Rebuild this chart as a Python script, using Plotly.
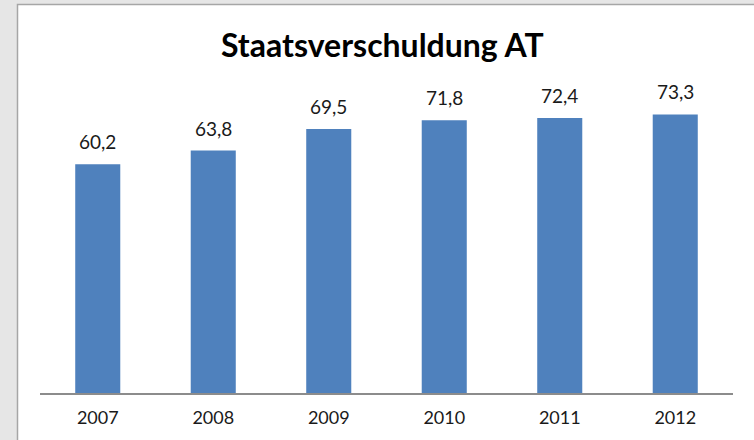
import plotly.graph_objects as go

years = ["2007", "2008", "2009", "2010", "2011", "2012"]
values = [60.2, 63.8, 69.5, 71.8, 72.4, 73.3]
labels = ["60,2", "63,8", "69,5", "71,8", "72,4", "73,3"]
title_text = "Staatsverschuldung AT"

W, H = 754, 440
L, R, T, B = 40, 21, 89, 47
pw, ph = W - L - R, H - T - B

def px_x(x):
    return (x - L) / pw

def px_y(y):
    return (H - B - y) / ph

fig = go.Figure()
fig.add_trace(go.Bar(
    x=years, y=values,
    marker=dict(color="#4F81BD", line=dict(width=0)),
    hoverinfo="skip",
))

annotations = []
for i, (v, lab) in enumerate(zip(values, labels)):
    annotations.append(dict(
        x=i, y=v, xref="x", yref="y", text=lab, showarrow=False,
        yanchor="bottom", yshift=9,
        font=dict(family="Lato", size=19, color="#1a1a1a"),
    ))
annotations.append(dict(
    x=px_x(382), y=px_y(44), xref="paper", yref="paper",
    text="<b>" + title_text + "</b>", showarrow=False,
    xanchor="center", yanchor="middle",
    font=dict(family="Lato", size=32, color="#000000"),
))

fig.update_layout(
    width=W, height=H,
    margin=dict(l=L, r=R, t=T, b=B, pad=0),
    paper_bgcolor="#E6E6E6",
    plot_bgcolor="rgba(0,0,0,0)",
    showlegend=False,
    bargap=0.61,
    annotations=annotations,
    shapes=[dict(
        type="rect", xref="paper", yref="paper", layer="below",
        x0=px_x(17.5), x1=px_x(W + 20), y0=px_y(H + 20), y1=px_y(4.5),
        fillcolor="#FFFFFF", line=dict(color="#A6A6A6", width=1.5),
    )],
    xaxis=dict(
        type="category",
        range=[-0.5, len(years) - 0.5],
        showline=True, linecolor="#8C8C8C", linewidth=1.5,
        showgrid=False, ticks="", zeroline=False,
        ticklabelstandoff=8,
        tickfont=dict(family="Lato", size=18, color="#1a1a1a"),
        fixedrange=True,
    ),
    yaxis=dict(
        range=[0, 80], visible=False, showgrid=False, zeroline=False,
        fixedrange=True,
    ),
)

fig.write_html("out.html")
